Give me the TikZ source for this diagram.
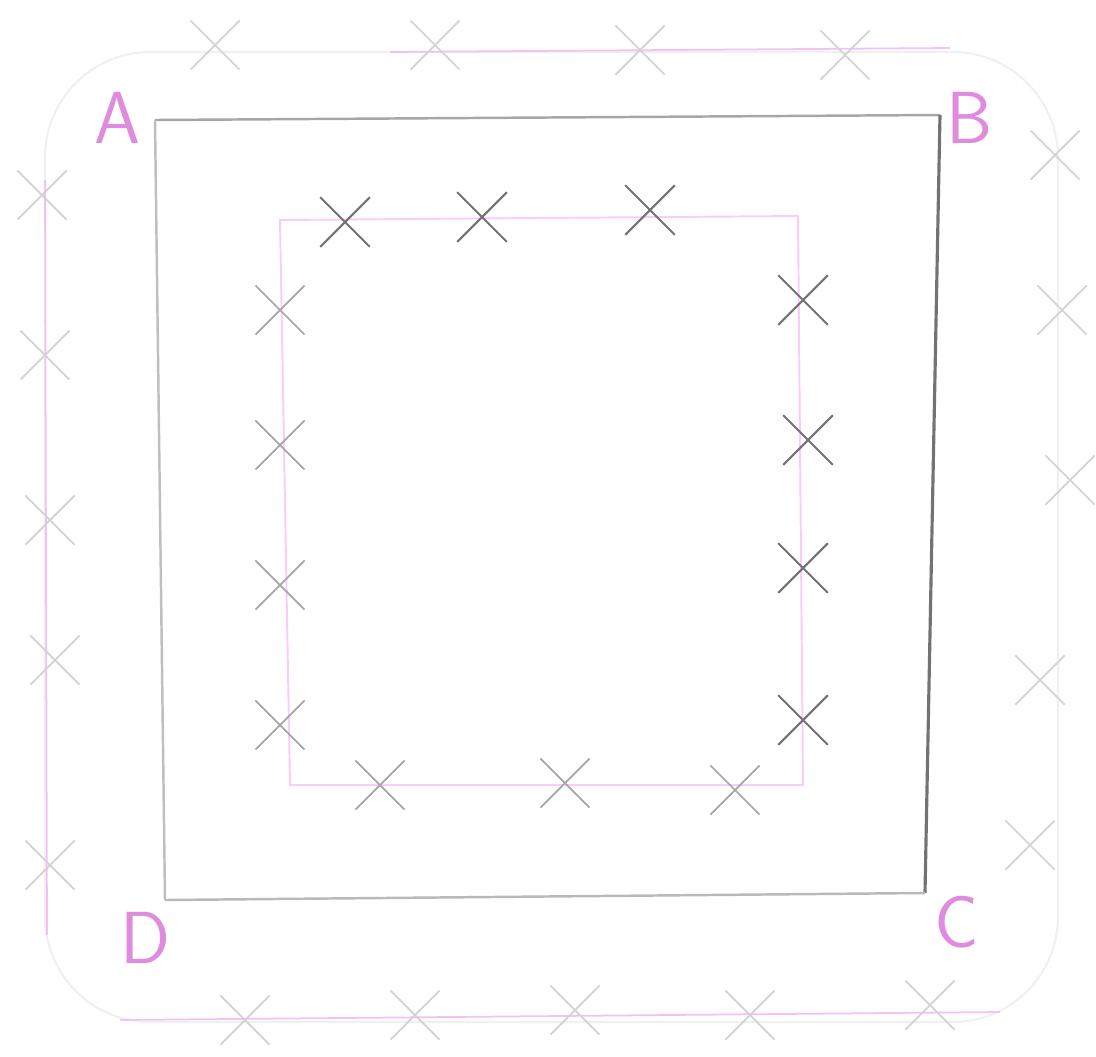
\documentclass[tikz,border=0pt]{standalone}
\usetikzlibrary{shapes.misc}
\begin{document}
\begin{tikzpicture}[x=0.02cm,y=-0.02cm]
    \tikzset{
      croix/.style={cross out,draw=gray!70,line width=1pt,minimum size=27pt,inner sep=0pt},
      croixpale/.style={croix,draw=gray!35},
      croixfonce/.style={croix,draw=gray!90!black,line width=1.2pt},
      rose/.style={violet!30!magenta!25,line width=1pt},
      lettre/.style={text=violet!55!magenta!45,font=\sffamily\fontsize{42}{42}\selectfont}
    }
    \useasboundingbox (0,0) rectangle (1096,1056);
    %%%%%%%%%%%%%%%%%%%%%%%%%%%%%%%%%%%%%% Chemin exterieur
    \draw[gray!12,line width=1.2pt,rounded corners=60pt] (45,52) rectangle (1058,1022);
    \draw[rose] (390,52)--(950,48);
    \draw[rose] (45,180)--(47,935);
    \draw[rose] (120,1020)--(1000,1012);

    %%%%%%%%%%%%%%%%%%%%%%%%%%%%%%%%%%%%%% Carre ABCD
    \coordinate (A) at (155,120);
    \coordinate (B) at (940,115);
    \coordinate (C) at (925,893);
    \coordinate (D) at (165,900);
    \draw[gray!70,line width=1.4pt] (A)--(B);
    \draw[gray!90!black,line width=1.8pt] (B)--(C);
    \draw[gray!55,line width=1.4pt] (C)--(D);
    \draw[gray!50,line width=1.4pt] (D)--(A);

    \node[lettre] (la) at (118,118) {A};
    \node[lettre] (lb) at (970,118) {B};
    \node[lettre] (lc) at (957,922) {C};
    \node[lettre] (ld) at (146,938) {D};

    %%%%%%%%%%%%%%%%%%%%%%%%%%%%%%%%%%%%%% Carre interieur
    \draw[violet!20!magenta!20,line width=1.1pt] (280,220)--(798,216)--(803,785)--(290,785)--cycle;

    %%%%%%%%%%%%%%%%%%%%%%%%%%%%%%%%%%%%%% Croix exterieures
    \foreach \x/\y [count=\i] in {215/45,435/45,640/50,845/55}
      \node[croixpale] (h\i) at (\x,\y) {};
    \foreach \x/\y [count=\i] in {1055/155,1062/310,1070/480,1040/680,1030/845}
      \node[croixpale] (d\i) at (\x,\y) {};
    \foreach \x/\y [count=\i] in {42/195,45/355,50/520,55/660,50/865}
      \node[croixpale] (g\i) at (\x,\y) {};
    \foreach \x/\y [count=\i] in {245/1020,415/1015,575/1010,750/1015,930/1005}
      \node[croixpale] (b\i) at (\x,\y) {};

    %%%%%%%%%%%%%%%%%%%%%%%%%%%%%%%%%%%%%% Croix interieures
    \foreach \x/\y [count=\i] in {345/222,482/217,650/210}
      \node[croixfonce] (ih\i) at (\x,\y) {};
    \foreach \x/\y [count=\i] in {280/310,280/445,280/585,280/725}
      \node[croix] (ig\i) at (\x,\y) {};
    \foreach \x/\y [count=\i] in {803/300,808/440,803/568,803/720}
      \node[croixfonce] (id\i) at (\x,\y) {};
    \foreach \x/\y [count=\i] in {380/785,565/783,735/790}
      \node[croix] (ib\i) at (\x,\y) {};
\end{tikzpicture}
\end{document}
